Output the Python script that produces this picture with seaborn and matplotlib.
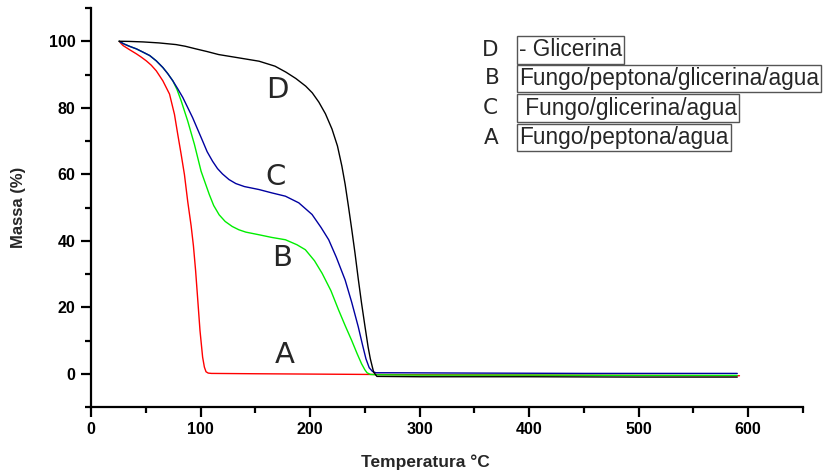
import matplotlib
matplotlib.use("Agg")
import matplotlib.pyplot as plt
from matplotlib.ticker import MultipleLocator
import seaborn as sns
import pandas as pd

# ---- data ----
temp_A = [25.7, 27.5, 29.3, 35, 41.5, 46, 50.5, 55, 59.6, 65.6, 71.7, 76.2, 79.2, 82.3, 85.3, 88.3, 91.4, 93.5, 95.5, 97.4, 99.5, 101.9, 103.5, 105, 107, 110, 150, 200, 300, 400, 500, 592]
mass_A = [100, 99.3, 98.7, 97.5, 96.2, 95.2, 94.1, 92.8, 91.1, 88.1, 84.1, 78, 72, 66, 59.9, 51.8, 44.5, 38.5, 31, 22.5, 13, 5.0, 2.0, 0.6, 0.2, 0.1, 0, -0.1, -0.3, -0.4, -0.5, -0.6]

temp_B = [25.7, 30, 35, 41.5, 47, 53.6, 59.6, 65.6, 70, 74.7, 78.5, 82.3, 88.3, 94.4, 100.5, 108, 112, 117, 122.5, 128.9, 135, 141.3, 153.4, 165, 177.5, 188, 195.7, 204, 211, 219, 226, 232, 238, 243, 247, 250, 252, 255, 260, 300, 400, 500, 590]
mass_B = [100, 99.2, 98.5, 97.7, 96.8, 95.7, 94.1, 92.1, 90.3, 88.1, 85.5, 82.1, 76, 69, 60.9, 53.9, 50.6, 47.8, 45.8, 44.3, 43.3, 42.6, 41.8, 41.0, 40.3, 38.8, 37.3, 34, 30.2, 25, 19.2, 14.5, 10, 6, 3, 1.2, 0.3, -0.2, -0.3, -0.4, -0.4, -0.5, -0.5]

temp_C = [25.7, 30, 35, 41.5, 47, 53.6, 59.6, 65.6, 70, 74.7, 79, 83.8, 92.8, 101.9, 106, 111, 115.5, 120, 126, 132.2, 140, 153.4, 165, 177.5, 189.7, 201.8, 210, 217, 224, 232, 238, 244, 248, 251, 254, 257, 260, 270, 350, 450, 590]
mass_C = [100, 99.2, 98.5, 97.7, 96.8, 95.7, 94.1, 92.1, 90.3, 88.1, 85.8, 83.1, 77, 70, 66.8, 63.9, 61.7, 60.1, 58.4, 57.2, 56.3, 55.4, 54.4, 53.4, 51.4, 47.9, 44, 40.3, 35, 28.2, 21.5, 14.1, 8.5, 4.5, 1.8, 0.7, 0.3, 0.3, 0.2, 0.1, 0.1]

temp_D = [25.7, 35, 47.5, 62, 77.6, 86, 95.8, 106, 116.5, 135, 153.4, 168, 178, 187, 196, 202, 208, 214, 220, 225, 229, 232, 235, 238, 241, 244, 247, 250, 253, 255, 258, 261, 300, 400, 500, 590]
mass_D = [100, 99.95, 99.8, 99.5, 99.0, 98.5, 97.7, 96.9, 96.0, 95.0, 94.0, 92.5, 90.7, 88.8, 86.5, 84.5, 81.7, 78.2, 73.6, 68.5, 62.5, 57, 50.4, 43.5, 36.3, 28.5, 21.2, 14.5, 8, 4.5, 0.5, -0.8, -0.9, -0.9, -1.0, -1.0]

series_names = ["A", "B", "C", "D"]
series_colors = {"A": "#ff0000", "B": "#00ee00", "C": "#0000a0", "D": "#000000"}
curve_labels = ["D", "C", "B", "A"]
curve_label_x = [169.7, 168.7, 174.1, 177.0]
curve_label_y = [85.4, 59.3, 34.8, 5.5]

legend_letters = ["D", "B", "C", "A"]
legend_texts = ["- Glicerina", "Fungo/peptona/glicerina/agua", " Fungo/glicerina/agua", "Fungo/peptona/agua"]

x_label = "Temperatura °C"
y_label = "Massa (%)"

# ---- build table ----
frames = []
for name, t, m in zip(series_names, [temp_A, temp_B, temp_C, temp_D], [mass_A, mass_B, mass_C, mass_D]):
    frames.append(pd.DataFrame({"Temperatura": t, "Massa": m, "Amostra": name}))
df = pd.concat(frames, ignore_index=True)

sns.set_style("ticks")
plt.rcParams["font.family"] = ["Liberation Sans", "DejaVu Sans"]

fig = plt.figure(figsize=(8.35, 4.71), dpi=100)
W, H = 835, 471
ax = fig.add_axes([91 / W, 1 - 407 / H, 712 / W, 399 / H])

for name in series_names:
    sub = df[df["Amostra"] == name]
    sns.lineplot(data=sub, x="Temperatura", y="Massa", color=series_colors[name],
                 estimator=None, sort=False, linewidth=1.0, legend=False, ax=ax)

ax.set_xlim(0, 650)
ax.set_ylim(-10, 110)
ax.xaxis.set_major_locator(MultipleLocator(100))
ax.xaxis.set_minor_locator(MultipleLocator(50))
ax.set_yticks([0, 20, 40, 60, 80, 100])
ax.yaxis.set_minor_locator(MultipleLocator(10))

for s in ["top", "right"]:
    ax.spines[s].set_visible(False)
for s in ["left", "bottom"]:
    ax.spines[s].set_linewidth(1.6)
    ax.spines[s].set_color("black")

ax.tick_params(axis="both", which="major", direction="out", length=7, width=1.6,
               labelsize=11.5, pad=4, colors="black")
ax.tick_params(axis="both", which="minor", direction="out", length=4, width=1.6, colors="black")
for lab in ax.get_xticklabels() + ax.get_yticklabels():
    lab.set_fontweight("bold")

ax.set_xlabel(x_label, fontsize=12.5, fontweight="bold")
ax.set_ylabel(y_label, fontsize=12, fontweight="bold")
ax.xaxis.set_label_coords(0.47, -0.138)
ax.yaxis.set_label_coords(-0.1025, 0.5)
ax.xaxis.label.set_va("center")
ax.yaxis.label.set_va("center")

for lab, x, y in zip(curve_labels, curve_label_x, curve_label_y):
    ax.text(x, y, lab, fontsize=21, ha="center", va="center", family="DejaVu Sans")

legend_y = [50, 78.5, 108, 137.5]
legend_letter_x = [490, 492, 490, 491]
for letter, text, y, lx in zip(legend_letters, legend_texts, legend_y, legend_letter_x):
    fig.text(lx / W, 1 - y / H, letter, fontsize=15.5, ha="center", va="center",
             family="DejaVu Sans")
    fig.text(519 / W, 1 - y / H, text, fontsize=16.3, ha="left", va="center",
             bbox=dict(boxstyle="square,pad=0.1", fc="white", ec="#555555", lw=1.0))

fig.savefig("out.png", dpi=100)
